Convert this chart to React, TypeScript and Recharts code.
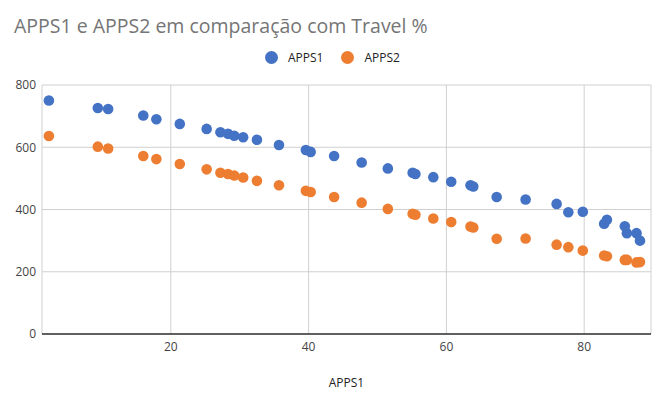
import { CartesianGrid, Scatter, ScatterChart, XAxis, YAxis } from "recharts";

const xValues = [2.3, 9.4, 10.9, 16.0, 17.9, 21.3, 25.2, 27.2, 28.3, 29.2, 30.5, 32.5, 35.7, 39.6, 40.3, 43.7, 47.7, 51.5, 55.1, 55.5, 58.1, 60.7, 63.5, 63.9, 67.3, 71.5, 76.0, 77.7, 79.8, 82.9, 83.3, 85.9, 86.2, 87.6, 88.1];
const apps1 = [750, 726, 723, 702, 690, 675, 659, 648, 643, 637, 632, 624, 607, 591, 585, 572, 551, 532, 518, 514, 504, 489, 478, 474, 440, 432, 418, 391, 393, 354, 367, 346, 324, 324, 300];
const apps2 = [636, 602, 596, 572, 562, 546, 529, 518, 514, 509, 503, 492, 478, 460, 456, 440, 422, 402, 386, 383, 371, 360, 345, 342, 306, 307, 287, 279, 268, 252, 250, 238, 238, 230, 231];
const xTicks = [20, 40, 60, 80];
const yTicks = [0, 200, 400, 600, 800];

const BLUE = "#4472C4";
const ORANGE = "#ED7D31";
const FONT = "'Open Sans', sans-serif";

const s1 = xValues.map((x, i) => ({ x, y: apps1[i] }));
const s2 = xValues.map((x, i) => ({ x, y: apps2[i] }));

const dot = (color: string) => (p: any) => <circle cx={p.cx} cy={p.cy} r={5.3} fill={color} />;

export default function App() {
  return (
    <div style={{ position: "absolute", left: 0, top: 0, width: 666, height: 403, background: "#fff", fontFamily: FONT }}>
      <div style={{ position: "absolute", left: 14, top: 12, fontSize: 19.5, color: "#757575", whiteSpace: "nowrap" }}>
        APPS1 e APPS2 em comparação com Travel %
      </div>
      <div style={{ position: "absolute", left: 265, top: 49, display: "flex", alignItems: "center", fontSize: 12, color: "#222" }}>
        <span style={{ width: 13, height: 13, borderRadius: "50%", background: BLUE, marginRight: 10 }} />
        <span style={{ marginRight: 18 }}>APPS1</span>
        <span style={{ width: 13, height: 13, borderRadius: "50%", background: ORANGE, marginRight: 10 }} />
        <span>APPS2</span>
      </div>
      <div style={{ position: "absolute", left: 0, width: 693, top: 374, textAlign: "center", fontSize: 12, color: "#222" }}>APPS1</div>
      <ScatterChart width={666} height={403} margin={{ top: 85, right: 15, bottom: 39, left: 0 }}>
        <CartesianGrid stroke="#d0d0d0" />
        <XAxis
          type="number"
          dataKey="x"
          domain={[1.3, 89.7]}
          ticks={xTicks}
          height={30}
          tickSize={0}
          tickMargin={8}
          axisLine={{ stroke: "#333", strokeWidth: 1.4 }}
          tick={{ fill: "#444", fontSize: 12, fontFamily: FONT }}
        />
        <YAxis
          type="number"
          dataKey="y"
          domain={[0, 800]}
          ticks={yTicks}
          width={42}
          tickSize={0}
          tickMargin={6}
          axisLine={false}
          tick={{ fill: "#444", fontSize: 12, fontFamily: FONT }}
        />
        <Scatter name="APPS1" data={s1} fill={BLUE} shape={dot(BLUE)} isAnimationActive={false} />
        <Scatter name="APPS2" data={s2} fill={ORANGE} shape={dot(ORANGE)} isAnimationActive={false} />
      </ScatterChart>
    </div>
  );
}
